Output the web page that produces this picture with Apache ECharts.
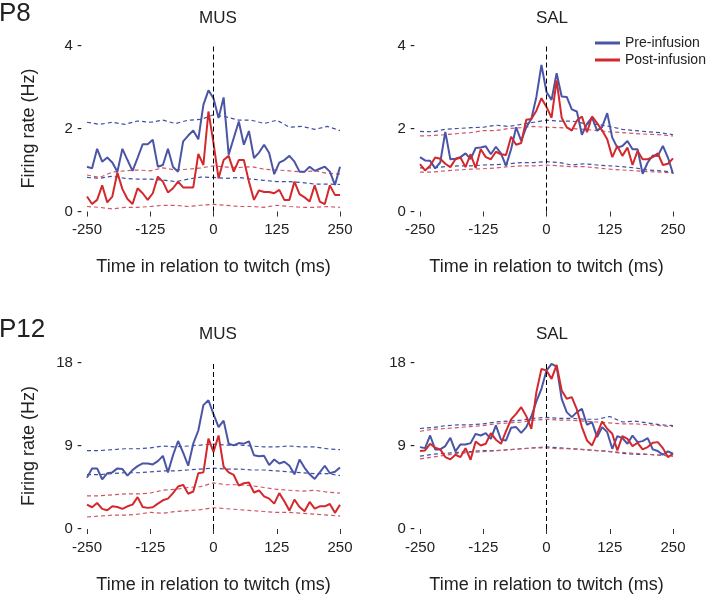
<!DOCTYPE html>
<html>
<head>
<meta charset="utf-8">
<script src="https://cdn.jsdelivr.net/npm/echarts@6/dist/echarts.min.js"></script>
<style>html,body{margin:0;padding:0;background:#fff}#c{width:711px;height:595px}</style>
</head>
<body>
<div id="c"></div>
<script>
// time bins (ms)
const timeFine = [-250,-240,-230,-220,-210,-200,-190,-180,-170,-160,-150,-140,-130,-120,-110,-100,-90,-80,-70,-60,-50,-40,-30,-20,-10,0,10,20,30,40,50,60,70,80,90,100,110,120,130,140,150,160,170,180,190,200,210,220,230,240,250];
const timeBand = [-250,-225,-200,-175,-150,-125,-100,-75,-50,-25,0,25,50,75,100,125,150,175,200,225,250];
const xTicks = [-250,-125,0,125,250];

// P8 MUS
const p8MusPre = [1.08,1.04,1.51,1.20,1.30,1.18,0.96,1.51,1.24,0.98,1.29,1.62,1.62,1.73,1.08,1.12,1.51,1.07,0.96,1.69,1.83,1.95,1.74,2.57,2.92,2.73,2.25,2.75,1.37,1.77,2.17,1.61,1.94,1.29,1.42,1.61,1.41,0.90,1.18,1.24,1.34,1.20,0.96,0.96,1.08,0.98,1.03,1.08,0.96,0.64,1.08];
const p8MusPost = [0.36,0.18,0.28,0.63,0.22,0.36,0.94,0.54,0.30,0.18,0.56,0.44,0.28,0.44,0.84,0.72,0.46,0.56,0.72,0.58,0.58,0.58,1.39,1.12,2.41,1.65,0.80,1.24,1.34,0.96,1.24,1.24,0.72,0.28,0.51,0.47,0.47,0.44,0.52,0.28,0.28,0.72,0.42,0.34,0.24,0.63,0.24,0.18,0.63,0.40,0.40];
const p8MusPreHi = [2.15,2.10,2.15,2.10,2.18,2.15,2.20,2.12,2.20,2.22,2.33,2.28,2.20,2.20,2.12,2.20,2.03,2.05,1.98,2.05,1.95];
const p8MusPreLo = [0.82,0.80,0.85,0.80,0.78,0.78,0.76,0.72,0.78,0.83,0.82,0.80,0.82,0.78,0.75,0.72,0.72,0.70,0.66,0.66,0.65];
const p8MusPostHi = [0.88,0.82,0.95,0.98,1.00,0.98,1.05,1.00,1.02,1.05,1.10,1.07,1.06,1.08,1.02,1.00,0.98,0.95,0.98,0.92,0.90];
const p8MusPostLo = [0.12,0.10,0.06,0.10,0.10,0.12,0.15,0.15,0.12,0.15,0.17,0.15,0.12,0.12,0.10,0.15,0.12,0.10,0.10,0.12,0.10];

// P8 SAL
const p8SalPre = [1.31,1.23,1.22,1.04,1.18,1.92,1.26,1.27,1.31,1.40,1.26,1.53,1.54,1.57,1.38,1.56,1.40,1.10,1.50,2.03,1.70,2.03,2.23,2.76,3.53,2.88,2.69,3.33,2.77,2.76,2.46,2.41,1.85,2.11,2.27,1.95,2.04,2.37,1.78,1.54,1.58,1.70,1.50,1.50,0.91,1.18,1.35,1.34,1.58,1.30,0.91];
const p8SalPost = [1.14,0.99,1.10,1.30,1.27,1.15,1.07,1.26,1.30,1.07,1.38,1.05,1.50,1.31,1.26,1.44,1.38,1.36,1.80,1.61,1.65,2.21,2.23,2.43,2.73,2.52,2.26,3.16,2.26,2.03,1.95,2.19,2.29,1.91,2.29,2.13,1.95,1.74,1.31,1.58,1.34,1.54,1.12,1.46,1.26,1.26,1.31,1.40,1.12,1.15,1.28];
const p8SalPreHi = [1.93,1.92,1.98,2.00,2.02,2.03,2.08,2.05,2.10,2.15,2.20,2.18,2.18,2.12,2.10,2.05,1.98,1.95,1.92,1.90,1.85];
const p8SalPreLo = [1.05,1.05,1.08,1.10,1.10,1.12,1.13,1.15,1.18,1.18,1.20,1.18,1.12,1.15,1.12,1.10,1.08,1.05,1.00,0.98,0.95];
const p8SalPostHi = [1.82,1.83,1.85,1.88,1.90,1.95,1.95,2.00,2.02,2.05,2.03,2.02,2.00,1.98,1.95,1.92,1.90,1.88,1.86,1.85,1.82];
const p8SalPostLo = [0.95,0.95,0.98,1.00,1.02,1.03,1.05,1.08,1.10,1.10,1.12,1.10,1.08,1.08,1.05,1.02,1.00,0.98,0.96,0.95,0.93];

// P12 MUS
const p12MusPre = [5.57,6.57,6.57,5.39,6.04,6.14,6.57,6.50,5.79,6.39,6.82,7.11,7.11,7.00,7.36,7.93,6.14,8.00,9.54,8.29,6.86,9.25,10.68,13.43,13.96,12.46,11.04,11.75,9.25,9.07,9.32,9.25,9.50,8.00,7.89,7.93,6.93,7.54,7.11,7.29,6.86,5.93,7.54,6.64,5.93,5.43,6.14,6.86,6.04,6.21,6.68];
const p12MusPost = [2.64,2.36,2.82,2.18,2.04,2.46,2.39,2.18,2.46,2.64,3.46,2.39,2.29,2.36,2.75,3.11,3.29,3.89,4.61,4.79,3.82,4.07,6.04,6.14,9.79,8.36,10.14,6.75,6.14,5.86,4.71,4.96,5.04,3.96,4.18,3.54,3.29,2.75,3.89,3.00,2.00,3.18,2.39,1.93,2.93,2.21,2.46,2.46,2.71,1.75,2.64];
const p12MusPreHi = [8.5,8.5,8.6,8.7,8.7,8.8,9.0,8.9,9.0,9.1,9.2,9.1,9.1,9.0,8.9,8.9,9.0,8.9,8.9,8.7,8.6];
const p12MusPreLo = [5.9,5.9,6.0,6.1,6.1,6.2,6.3,6.3,6.4,6.5,6.6,6.5,6.5,6.4,6.4,6.3,6.2,6.1,6.0,6.0,5.8];
const p12MusPostHi = [3.6,3.6,3.7,3.8,3.8,3.9,4.2,4.3,4.5,4.6,5.0,4.8,4.8,4.7,4.5,4.3,4.2,4.1,4.2,4.0,3.9];
const p12MusPostLo = [1.3,1.4,1.5,1.5,1.6,1.8,1.7,1.9,2.0,2.1,2.3,2.2,2.1,2.0,1.9,1.8,1.8,1.7,1.6,1.5,1.4];

// P12 SAL
const p12SalPre = [8.88,8.77,10.14,8.63,8.63,8.99,9.89,8.41,9.17,9.17,9.31,10.32,10.14,10.40,9.78,11.23,9.68,9.60,10.97,11.05,10.43,11.05,12.20,13.83,15.20,17.18,17.90,17.60,14.12,12.67,12.13,12.67,13.03,11.30,11.59,9.96,11.05,10.50,8.70,10.07,9.86,9.24,10.14,9.42,9.53,9.86,8.63,8.45,8.05,8.41,8.16];
const p12SalPost = [8.45,8.52,9.24,8.81,8.63,7.80,7.55,8.05,7.80,8.77,7.51,9.49,9.06,9.24,10.40,9.68,9.24,10.61,11.88,12.49,13.21,12.24,10.87,14.84,17.36,17.18,16.28,17.80,15.02,14.12,14.30,12.96,11.05,9.60,9.06,10.32,11.66,10.87,10.32,8.52,10.07,9.78,8.99,9.35,8.63,8.88,9.35,9.42,8.77,7.80,8.16];
const p12SalPreHi = [10.9,11.0,11.2,11.3,11.3,11.4,11.6,11.7,11.8,12.0,12.1,12.0,12.0,11.9,11.9,12.2,11.6,11.7,11.5,11.3,11.2];
const p12SalPreLo = [7.9,8.1,8.2,8.3,8.4,8.5,8.5,8.6,8.7,8.8,8.9,8.8,8.7,8.6,8.5,8.4,8.2,8.1,8.1,8.0,7.9];
const p12SalPostHi = [10.6,10.8,10.9,11.0,11.1,11.2,11.4,11.5,11.6,11.8,11.9,11.8,11.8,11.7,11.6,11.5,11.4,11.4,11.3,11.2,11.1];
const p12SalPostLo = [7.6,7.8,8.0,8.2,8.3,8.4,8.5,8.6,8.7,8.8,8.8,8.7,8.7,8.6,8.5,8.4,8.3,8.2,8.1,8.0,7.9];

const yTicksP8 = [0,2,4];
const yTicksP12 = [0,9,18];

const FONT = 'Liberation Sans, Arial, Helvetica, sans-serif';
const BLUE = '#4a55a6';
const RED = '#d3282c';
const BLUE_D = '#3f4fa2';
const RED_D = '#cf5566';
const TXT = '#222';

const panels = [
  {pre:p8MusPre, post:p8MusPost, preHi:p8MusPreHi, preLo:p8MusPreLo, postHi:p8MusPostHi, postLo:p8MusPostLo, yt:yTicksP8, left:87, top:45.5},
  {pre:p8SalPre, post:p8SalPost, preHi:p8SalPreHi, preLo:p8SalPreLo, postHi:p8SalPostHi, postLo:p8SalPostLo, yt:yTicksP8, left:420, top:45.5},
  {pre:p12MusPre, post:p12MusPost, preHi:p12MusPreHi, preLo:p12MusPreLo, postHi:p12MusPostHi, postLo:p12MusPostLo, yt:yTicksP12, left:87, top:363},
  {pre:p12SalPre, post:p12SalPost, preHi:p12SalPreHi, preLo:p12SalPreLo, postHi:p12SalPostHi, postLo:p12SalPostLo, yt:yTicksP12, left:420, top:363}
];

const zip = (xs, ys) => xs.map((x, i) => [x, ys[i]]);

const grid = [], xAxis = [], yAxis = [], series = [];
panels.forEach((p, i) => {
  const left = i % 2 === 0;
  grid.push({left: p.left, top: p.top, width: 253, height: 166});
  xAxis.push({
    type: 'value', gridIndex: i, min: xTicks[0], max: xTicks[xTicks.length-1], interval: xTicks[1]-xTicks[0],
    axisLine: {show: false}, axisTick: {show: true, length: 5, lineStyle: {color: '#333', width: 1}},
    splitLine: {show: false},
    axisLabel: {fontFamily: FONT, fontSize: 15, color: TXT, margin: 11},
    name: 'Time in relation to twitch (ms)', nameLocation: 'middle', nameGap: 47,
    nameTextStyle: {fontFamily: FONT, fontSize: 18, color: TXT}
  });
  yAxis.push({
    type: 'value', gridIndex: i, min: p.yt[0], max: p.yt[p.yt.length-1], interval: p.yt[1]-p.yt[0],
    axisLine: {show: false}, axisTick: {show: false}, splitLine: {show: false},
    axisLabel: {fontFamily: FONT, fontSize: 15, color: TXT, margin: 5, formatter: '{value} -'},
    name: left ? 'Firing rate (Hz)' : '', nameLocation: 'middle', nameGap: 49,
    nameTextStyle: {fontFamily: FONT, fontSize: 18, color: TXT}
  });
  const dashed = (name, data, color) => ({
    name, type: 'line', xAxisIndex: i, yAxisIndex: i, data: zip(timeBand, data),
    symbol: 'none', silent: true, lineStyle: {color, width: 1.2, type: [4, 3]}, z: 1
  });
  series.push(dashed('Pre band hi', p.preHi, BLUE_D));
  series.push(dashed('Pre band lo', p.preLo, BLUE_D));
  series.push(dashed('Post band hi', p.postHi, RED_D));
  series.push(dashed('Post band lo', p.postLo, RED_D));
  series.push({
    name: 'Pre-infusion', type: 'line', xAxisIndex: i, yAxisIndex: i, data: zip(timeFine, p.pre),
    symbol: 'none', color: BLUE, lineStyle: {color: BLUE, width: 2}, z: 3,
    markLine: {silent: true, symbol: 'none', label: {show: false},
      lineStyle: {color: '#000', type: [5, 3], width: 1}, data: [{xAxis: 0}]}
  });
  series.push({
    name: 'Post-infusion', type: 'line', xAxisIndex: i, yAxisIndex: i, data: zip(timeFine, p.post),
    symbol: 'none', color: RED, lineStyle: {color: RED, width: 2}, z: 4
  });
});

const T = (text, left, top, size, align) => ({
  text, left, top, textAlign: align,
  textStyle: {fontFamily: FONT, fontSize: size, fontWeight: 'normal', color: TXT}
});

const chart = echarts.init(document.getElementById('c'), null, {renderer: 'canvas'});
chart.setOption({
  animation: false,
  backgroundColor: '#fff',
  title: [
    T('P8', -6, -4, 26, 'left'),
    T('P12', -6, 312, 26, 'left'),
    T('MUS', 213, 5, 17, 'center'),
    T('SAL', 547, 5, 17, 'center'),
    T('MUS', 213, 321, 17, 'center'),
    T('SAL', 547, 321, 17, 'center')
  ],
  legend: {
    data: ['Pre-infusion', 'Post-infusion'], orient: 'vertical', left: 590, top: 31,
    icon: 'rect', itemWidth: 25, itemHeight: 3, itemGap: 3,
    textStyle: {fontFamily: FONT, fontSize: 14, color: TXT}
  },
  grid, xAxis, yAxis, series
});
</script>
</body>
</html>
